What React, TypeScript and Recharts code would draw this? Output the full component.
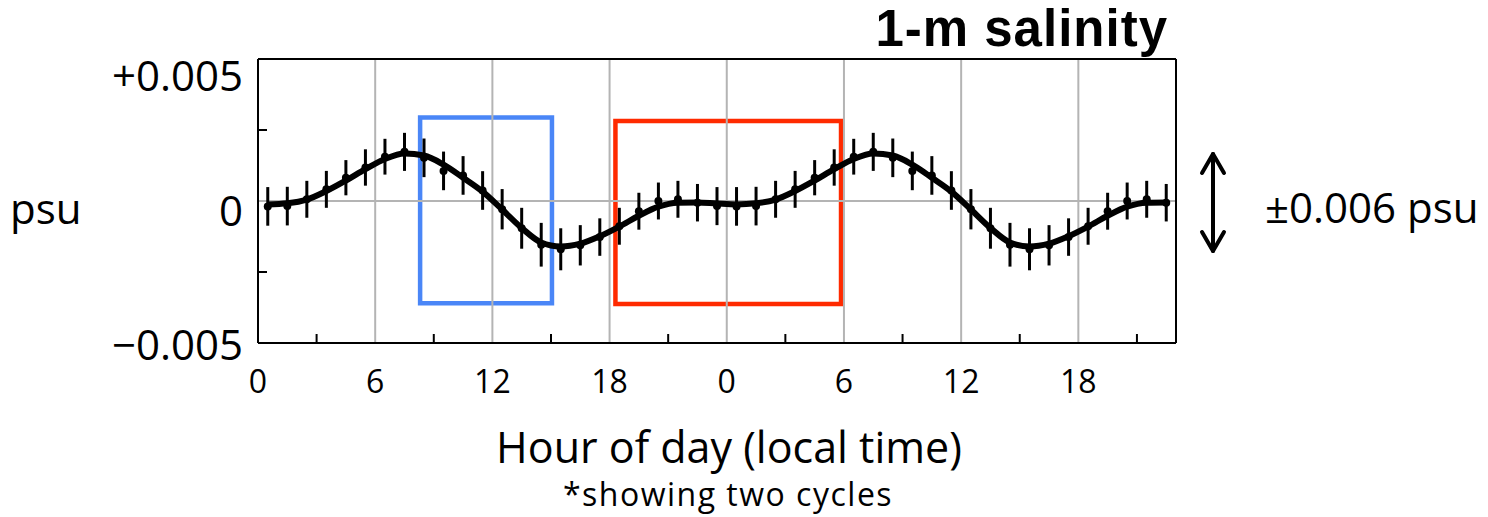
import {
  LineChart,
  Line,
  XAxis,
  YAxis,
  ErrorBar,
  ReferenceArea,
  ReferenceLine,
} from 'recharts'

// one daily cycle of hourly means (psu anomaly), centred on each half hour
const cycleMean = [
  -0.00019, -0.00018, 0.00006, 0.00041, 0.00082, 0.00118, 0.00156, 0.00173,
  0.00152, 0.00106, 0.0009, 0.00037, -0.00029, -0.00096, -0.00154, -0.0017,
  -0.00156, -0.00127, -0.00089, -0.00036, 0, 0.00006, -0.00006, -0.00018,
]
const cycleErr = [
  0.00068, 0.00068, 0.00065, 0.00065, 0.00062, 0.00064, 0.00063, 0.00067,
  0.00068, 0.00068, 0.00068, 0.00068, 0.00071, 0.00072, 0.00077, 0.00074,
  0.00071, 0.00066, 0.00065, 0.00065, 0.00065, 0.00065, 0.00066, 0.00067,
]
// harmonic fit evaluated at the same hours
const cycleFit = [
  -0.00012, -0.00008, 0.00005, 0.00035, 0.00072, 0.00112, 0.00148, 0.00167,
  0.0016, 0.00128, 0.00082, 0.00033, -0.0003, -0.00095, -0.00146, -0.0016,
  -0.0015, -0.00124, -0.0009, -0.00052, -0.0002, -0.00006, -0.00005, -0.00009,
]

const HOURS_SHOWN = 47
const labelTicks = [0, 6, 12, 18, 24, 30, 36, 42]
const minorTicks = [3, 9, 15, 21, 27, 33, 39, 45]
const gridHours = [6, 12, 18, 24, 30, 36, 42]
const yTicks = [-0.005, -0.0025, 0, 0.0025, 0.005]
const yLabels: Record<string, string> = { '0.005': '+0.005', '0': '0', '-0.005': '\u22120.005' }
const yLabelShift: Record<string, number> = { '0.005': 32, '0': 25, '-0.005': 17 }

// repeat the daily cycle to show two days
const data = Array.from({ length: HOURS_SHOWN }, (_, i) => ({
  hour: i + 0.5,
  mean: cycleMean[i % 24],
  err: cycleErr[i % 24],
  fit: cycleFit[i % 24],
}))

const FONT = '"Open Sans", sans-serif'

const BottomTick = ({ x, y, payload }: any) => {
  const v = payload.value as number
  if (v % 6 === 0) {
    return (
      <text x={x} y={y + 50} textAnchor="middle" fontFamily={FONT} fontSize={32} fill="#000">
        {v % 24}
      </text>
    )
  }
  return <line x1={x} y1={y} x2={x} y2={y - 9} stroke="#000" strokeWidth={2} />
}

const LeftTick = ({ x, y, payload }: any) => {
  const key = String(payload.value)
  if (yLabels[key] !== undefined) {
    return (
      <text x={x - 15} y={y + yLabelShift[key]} textAnchor="end" fontFamily={FONT} fontSize={42} fill="#000">
        {yLabels[key]}
      </text>
    )
  }
  return <line x1={x} y1={y} x2={x + 9} y2={y} stroke="#000" strokeWidth={2} />
}

export default function App() {
  return (
    <div style={{ position: 'fixed', left: 0, top: 0, width: 1488, height: 517, background: '#fff' }}>
      <LineChart
        width={1488}
        height={517}
        data={data}
        margin={{ top: 59, right: 312, bottom: 173, left: 0 }}
      >
        {gridHours.map((h) => (
          <ReferenceLine key={h} x={h} stroke="#b4b4b4" strokeWidth={2} />
        ))}
        <ReferenceLine y={0} stroke="#b4b4b4" strokeWidth={2} />
        <XAxis
          dataKey="hour"
          type="number"
          domain={[0, HOURS_SHOWN]}
          ticks={[...labelTicks, ...minorTicks].sort((a, b) => a - b)}
          interval={0}
          height={1}
          tickSize={0}
          tickMargin={0}
          tickLine={false}
          tick={<BottomTick />}
          axisLine={{ stroke: '#000', strokeWidth: 2 }}
        />
        <XAxis
          xAxisId="top"
          orientation="top"
          dataKey="hour"
          type="number"
          domain={[0, HOURS_SHOWN]}
          ticks={minorTicks}
          interval={0}
          height={1}
          mirror
          tickSize={9}
          tick={false}
          tickLine={{ stroke: '#000', strokeWidth: 2 }}
          axisLine={{ stroke: '#000', strokeWidth: 2 }}
        />
        <YAxis
          type="number"
          domain={[-0.005, 0.005]}
          ticks={yTicks}
          interval={0}
          width={258}
          tickSize={0}
          tickMargin={0}
          tickLine={false}
          tick={<LeftTick />}
          axisLine={{ stroke: '#000', strokeWidth: 2 }}
        />
        <YAxis
          yAxisId="right"
          orientation="right"
          type="number"
          domain={[-0.005, 0.005]}
          ticks={[-0.0025, 0.0025]}
          interval={0}
          width={1}
          mirror
          tickSize={9}
          tick={false}
          tickLine={{ stroke: '#000', strokeWidth: 2 }}
          axisLine={{ stroke: '#000', strokeWidth: 2 }}
        />
        <Line
          dataKey="fit"
          type="monotone"
          stroke="#000"
          strokeWidth={6}
          dot={false}
          activeDot={false}
          isAnimationActive={false}
        />
        <Line
          dataKey="mean"
          stroke="none"
          dot={{ r: 4, fill: '#000', stroke: 'none' }}
          activeDot={false}
          isAnimationActive={false}
        >
          <ErrorBar dataKey="err" width={0} stroke="#000" strokeWidth={3} direction="y" isAnimationActive={false} />
        </Line>
        <ReferenceArea
          x1={8.3}
          x2={15.05}
          y1={-0.0036}
          y2={0.00294}
          fill="none"
          stroke="#4a86f7"
          strokeWidth={4.5}
          ifOverflow="visible"
        />
        <ReferenceArea
          x1={18.3}
          x2={29.85}
          y1={-0.00363}
          y2={0.00282}
          fill="none"
          stroke="#ff2a00"
          strokeWidth={4.5}
          ifOverflow="visible"
        />
      </LineChart>
      <svg width={1488} height={517} style={{ position: 'absolute', left: 0, top: 0, pointerEvents: 'none' }}>
        <text x={1168} y={46} textAnchor="end" fontFamily='"Liberation Sans", Arial, sans-serif' fontWeight="bold" fontSize={51} letterSpacing={1}>
          1-m salinity
        </text>
        <text x={10} y={224} fontFamily={FONT} fontSize={42}>
          psu
        </text>
        <g stroke="#000" strokeWidth={4} fill="none" strokeLinecap="round" strokeLinejoin="round">
          <line x1={1213} y1={154} x2={1213} y2={251} />
          <path d="M1202,173 L1213,154 L1224,173" />
          <path d="M1202,232 L1213,251 L1224,232" />
        </g>
        <text x={1265} y={223} fontFamily={FONT} fontSize={42}>
          ±0.006 psu
        </text>
        <text x={729} y={463} textAnchor="middle" fontFamily={FONT} fontSize={43}>
          Hour of day (local time)
        </text>
        <text x={728} y={506} textAnchor="middle" fontFamily={FONT} fontSize={32} letterSpacing={1.5}>
          *showing two cycles
        </text>
      </svg>
    </div>
  )
}
